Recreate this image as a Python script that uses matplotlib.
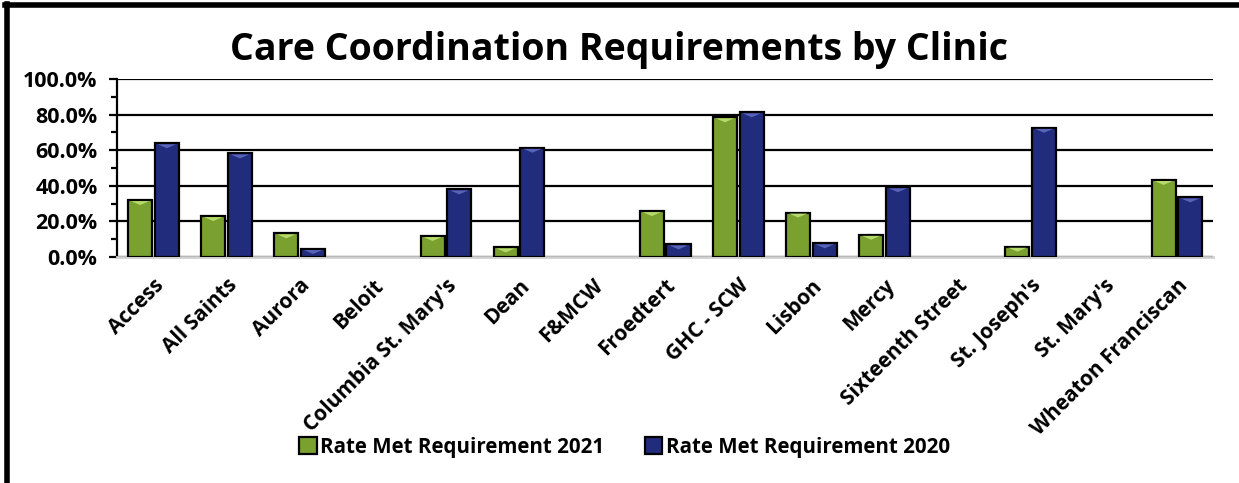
import numpy as np
import matplotlib
matplotlib.use('Agg')
import matplotlib.pyplot as plt
from matplotlib.ticker import MultipleLocator, FuncFormatter

plt.rcParams['font.family'] = ['Open Sans', 'DejaVu Sans']
plt.rcParams['font.weight'] = 'bold'

clinics = ["Access", "All Saints", "Aurora", "Beloit", "Columbia St. Mary's",
           "Dean", "F&MCW", "Froedtert", "GHC - SCW", "Lisbon", "Mercy",
           "Sixteenth Street", "St. Joseph's", "St. Mary's", "Wheaton Franciscan"]
rate_2021 = [32.0, 23.0, 13.3, np.nan, 11.8, 5.4, np.nan, 25.8, 78.5, 25.0,
             12.5, np.nan, 5.8, np.nan, 43.3]
rate_2020 = [63.9, 58.2, 4.5, np.nan, 38.0, 61.4, np.nan, 7.1, 81.3, 7.7,
             39.2, np.nan, 72.6, np.nan, 33.5]
labels = ["Rate Met Requirement 2021", "Rate Met Requirement 2020"]

green = '#7aa12f'
blue = '#222c7c'

fig = plt.figure(figsize=(12.39, 4.83), dpi=100)
ax = fig.add_axes([0.0944, 0.4679, 0.8850, 0.3685])

x = np.arange(len(clinics))
w = 0.33
gap = 0.035
b1 = ax.bar(x - w / 2 - gap / 2, rate_2021, w, color=green, edgecolor='black',
            linewidth=1.6, label=labels[0], zorder=3)
b2 = ax.bar(x + w / 2 + gap / 2, rate_2020, w, color=blue, edgecolor='black',
            linewidth=1.6, label=labels[1], zorder=3)

# small bevel highlight at the top of each bar
for bars, hl in ((b1, '#b5d96a'), (b2, '#5763b8')):
    for r in bars:
        h = r.get_height()
        if np.isnan(h):
            continue
        x0, bw = r.get_x(), r.get_width()
        d = min(2.2, h * 0.5)
        ax.fill([x0 + bw * 0.12, x0 + bw * 0.88, x0 + bw * 0.5],
                [h - 0.6, h - 0.6, h - 0.6 - d], color=hl, zorder=4, lw=0)

ax.set_xlim(-0.5, len(clinics) - 0.5)
ax.set_ylim(0, 100)
ax.yaxis.set_major_locator(MultipleLocator(20))
ax.yaxis.set_minor_locator(MultipleLocator(10))
ax.yaxis.set_major_formatter(FuncFormatter(lambda v, p: '%.1f%%' % v))
ax.grid(axis='y', color='black', linewidth=1.6, zorder=0)
ax.set_axisbelow(True)

for s in ('top', 'right'):
    ax.spines[s].set_visible(False)
ax.spines['bottom'].set_color('#d0d0d0')
ax.spines['bottom'].set_linewidth(2)
ax.spines['left'].set_linewidth(1.6)

ax.tick_params(axis='y', which='major', length=6, width=1.6, labelsize=15.5, pad=8)
ax.tick_params(axis='y', which='minor', length=4, width=1.6)
ax.tick_params(axis='x', length=0, pad=13)
ax.set_xticks(x)
ax.set_xticklabels(clinics, rotation=45, ha='right', rotation_mode='anchor',
                   fontsize=15, fontweight='bold')
for t in ax.get_yticklabels():
    t.set_fontweight('bold')

fig.text(0.5, 0.897, "Care Coordination Requirements by Clinic", ha='center',
         va='center', fontsize=27, fontweight='bold')

leg = fig.legend(handles=[b1, b2], labels=labels, loc='center',
                 bbox_to_anchor=(0.504, 0.0745), ncol=2, frameon=False,
                 prop={'weight': 'bold', 'size': 14.8}, handlelength=0.85,
                 handleheight=0.85, handletextpad=0.15, columnspacing=2.0)

# page border lines of the document the chart sits in
fig.add_artist(plt.Line2D([0.004, 1.0], [0.989, 0.989], color='black', lw=4,
                          transform=fig.transFigure))
fig.add_artist(plt.Line2D([0.0055, 0.0055], [0.0, 0.991], color='black', lw=4,
                          transform=fig.transFigure))

fig.savefig('out.png', dpi=100)
